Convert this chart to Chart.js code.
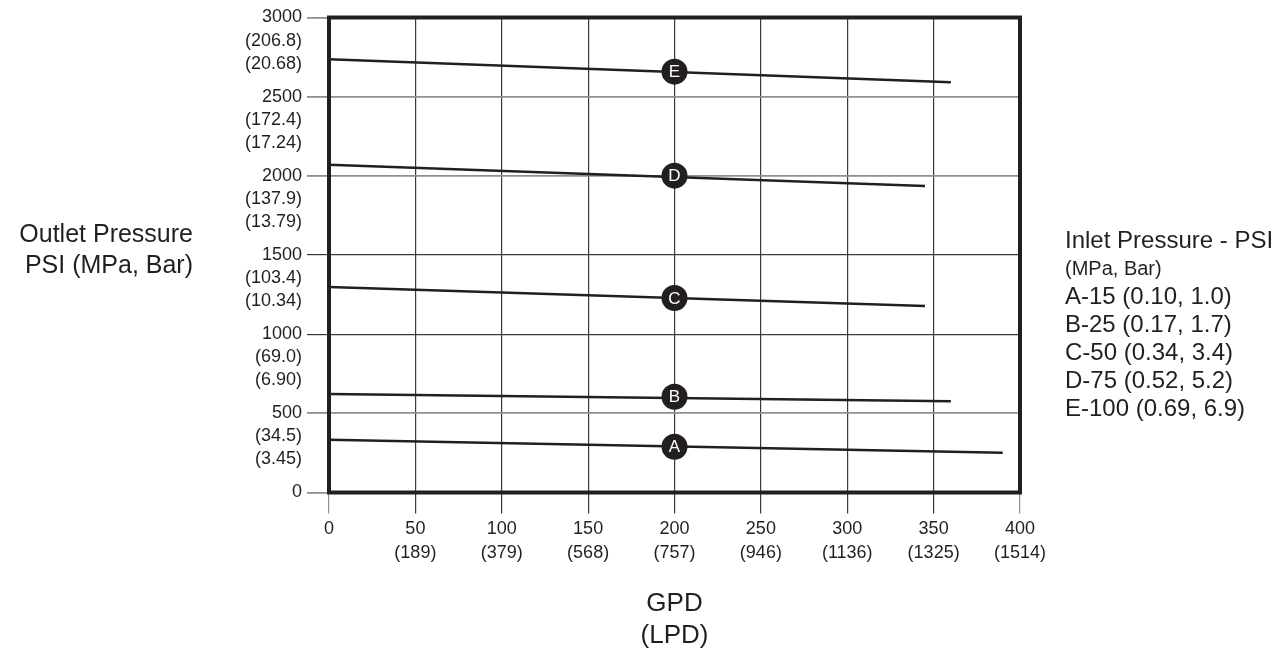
<!DOCTYPE html>
<html>
<head>
<meta charset="utf-8">
<script src="https://cdn.jsdelivr.net/npm/chart.js@4/dist/chart.umd.min.js"></script>
<style>
  html, body { margin: 0; padding: 0; background: #fff; overflow: hidden; }
  #wrap { position: relative; width: 1284px; height: 651px; font-family: "Liberation Sans", Arial, sans-serif; color: #231f20; }
  #yTitle { position: absolute; left: 0; top: 218px; width: 193px; text-align: right; font-size: 25px; line-height: 31px; }
  #legend { position: absolute; left: 1065px; top: 226px; font-size: 24px; line-height: 28px; white-space: nowrap; }
  #legend .small { font-size: 20px; }
</style>
</head>
<body>
<div id="wrap">
  <canvas id="grafico"></canvas>
  <div id="yTitle">Outlet Pressure<br>PSI (MPa, Bar)</div>
  <div id="legend"></div>
</div>
<script>
// eixos
const gpdTicks = [0, 50, 100, 150, 200, 250, 300, 350, 400];
const lpdTicks = ['', '(189)', '(379)', '(568)', '(757)', '(946)', '(1136)', '(1325)', '(1514)'];
const psiTicks = [0, 500, 1000, 1500, 2000, 2500, 3000];
const barTicks = ['', '(34.5)', '(69.0)', '(103.4)', '(137.9)', '(172.4)', '(206.8)'];
const mpaTicks = ['', '(3.45)', '(6.90)', '(10.34)', '(13.79)', '(17.24)', '(20.68)'];

// curvas A..E (inicio e fim de cada reta)
const curveNames    = ['A', 'B', 'C', 'D', 'E'];
const curveStartGpd = [0, 0, 0, 0, 0];
const curveStartPsi = [333, 622, 1298, 2070, 2736];
const curveEndGpd   = [390, 360, 345, 345, 360];
const curveEndPsi   = [251, 576, 1178, 1936, 2591];

// marcadores com letra
const markerGpd = [200, 200, 200, 200, 200];
const markerPsi = [289, 605, 1228, 2001, 2658];

const legendTitle = 'Inlet Pressure - PSI';
const legendUnits = '(MPa, Bar)';
const legendItems = ['A-15 (0.10, 1.0)', 'B-25 (0.17, 1.7)', 'C-50 (0.34, 3.4)', 'D-75 (0.52, 5.2)', 'E-100 (0.69, 6.9)'];

const ink = '#231f20';
const gridDark = '#3a3a3a';
const gridLight = '#8f8f8f';

document.getElementById('legend').innerHTML =
  `<div>${legendTitle}</div><div class="small">${legendUnits}</div>` +
  legendItems.map(t => `<div>${t}</div>`).join('');

const datasets = [{
  type: 'scatter',
  data: markerGpd.map((x, i) => ({ x, y: markerPsi[i] })),
  pointRadius: 13, pointHoverRadius: 13,
  backgroundColor: ink, borderColor: ink, borderWidth: 0
}];
curveNames.forEach((n, i) => {
  datasets.push({
    type: 'line', label: n,
    data: [{ x: curveStartGpd[i], y: curveStartPsi[i] }, { x: curveEndGpd[i], y: curveEndPsi[i] }],
    borderColor: ink, borderWidth: 2.6, pointRadius: 0, fill: false, tension: 0
  });
});

/** moldura grossa + letras brancas nos marcadores */
const moldura = {
  id: 'moldura',
  afterDatasetsDraw(chart) {
    const { ctx, chartArea: a } = chart;
    ctx.save();
    ctx.strokeStyle = ink;
    ctx.lineWidth = 4;
    ctx.strokeRect(a.left, a.top, a.right - a.left, a.bottom - a.top);
    ctx.fillStyle = '#fff';
    ctx.font = '17px "Liberation Sans", Arial, sans-serif';
    ctx.textAlign = 'center';
    ctx.textBaseline = 'middle';
    chart.getDatasetMeta(0).data.forEach((pt, i) => ctx.fillText(curveNames[i], pt.x, pt.y + 1));
    ctx.restore();
  }
};

const ehBorda = v => v === 0 || v === 400;

new Chart(document.getElementById('grafico'), {
  data: { datasets },
  plugins: [moldura],
  options: {
    responsive: true, maintainAspectRatio: false, animation: false,
    layout: { padding: { left: 0, top: 17.5, right: 264, bottom: 0 } },
    plugins: { legend: { display: false }, tooltip: { enabled: false } },
    scales: {
      x: {
        type: 'linear', min: 0, max: 400,
        afterBuildTicks: s => { s.ticks = gpdTicks.map(v => ({ value: v })); },
        afterFit: s => { s.height = 158.5; },
        border: { display: false },
        grid: {
          color: c => (c.tick && ehBorda(c.tick.value)) ? gridLight : gridDark,
          lineWidth: 1.2, tickLength: 21
        },
        ticks: {
          autoSkip: false, maxRotation: 0, padding: 4, color: ink,
          font: { family: '"Liberation Sans", Arial, sans-serif', size: 18, lineHeight: 1.33 },
          callback: v => { const i = gpdTicks.indexOf(v); return lpdTicks[i] ? [String(v), lpdTicks[i]] : String(v); }
        },
        title: {
          display: true, text: ['GPD', '(LPD)'], color: ink, padding: { top: 0, bottom: 0 },
          font: { family: '"Liberation Sans", Arial, sans-serif', size: 26, lineHeight: 1.2 }
        }
      },
      y: {
        type: 'linear', min: 0, max: 3000,
        afterBuildTicks: s => { s.ticks = psiTicks.map(v => ({ value: v })); },
        afterFit: s => { s.width = 329; s.paddingTop = 0; s.paddingBottom = 0; },
        border: { display: false },
        grid: {
          color: c => (c.tick && (c.tick.value === 1000 || c.tick.value === 1500)) ? gridDark : gridLight,
          lineWidth: c => (c.tick && (c.tick.value === 1000 || c.tick.value === 1500)) ? 1.2 : 1.8,
          tickLength: 22
        },
        ticks: {
          autoSkip: false, padding: 5, color: ink,
          font: { family: '"Liberation Sans", Arial, sans-serif', size: 18, lineHeight: 1.28 },
          callback: v => { const i = psiTicks.indexOf(v); return barTicks[i] ? ['', '', String(v), barTicks[i], mpaTicks[i]] : String(v); }
        }
      }
    }
  }
});
</script>
</body>
</html>
